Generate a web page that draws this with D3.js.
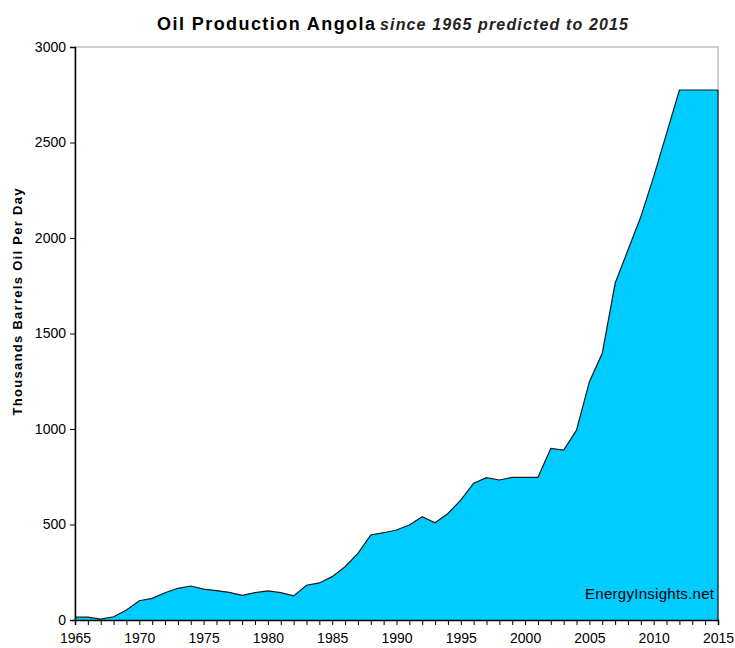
<!DOCTYPE html>
<html><head><meta charset="utf-8">
<script src="https://cdn.jsdelivr.net/npm/d3@7/dist/d3.min.js"></script>
<style>body{margin:0;background:#fff;} svg{display:block;font-family:"Liberation Sans",Arial,sans-serif;}</style>
</head><body>
<svg id="c" width="735" height="648"></svg>
<script>
const years = d3.range(1965, 2016);
const production = [15,15,5,17,52,101,113,143,166,178,162,154,145,129,143,152,143,126,182,194,227,279,349,445,457,471,497,541,509,558,628,716,745,733,747,747,747,899,890,995,1248,1396,1763,1937,2112,2321,2548,2775,2775,2775,2775];
const yTicks = [0,500,1000,1500,2000,2500,3000];
const xTicks = [1965,1970,1975,1980,1985,1990,1995,2000,2005,2010,2015];
const data = years.map((y,i)=>({year:y, value:production[i]}));

const svg = d3.select("#c");
const L=75, R=718, T=47, B=620;
const x = d3.scaleLinear().domain([1965,2015]).range([L,R]);
const y = d3.scaleLinear().domain([0,3000]).range([B,T]);

svg.append("rect").attr("x",L).attr("y",T).attr("width",R-L).attr("height",B-T)
  .attr("fill","none").attr("stroke","#a0a0a0").attr("stroke-width",1);

const area = d3.area().x(d=>x(d.year)).y0(B).y1(d=>y(d.value));
svg.append("path").datum(data).attr("d",area).attr("fill","#00ccff");
const line = d3.line().x(d=>x(d.year)).y(d=>y(d.value));
svg.append("path").datum(data).attr("d",line).attr("fill","none").attr("stroke","#1a1a1a").attr("stroke-width",1.2);
svg.append("line").attr("x1",R).attr("x2",R).attr("y1",y(production[production.length-1])).attr("y2",B).attr("stroke","#000");

const yAxis = d3.axisLeft(y).tickValues(yTicks).tickSize(5).tickFormat(d3.format("d"));
const gy = svg.append("g").attr("transform",`translate(${L},0)`).call(yAxis);
gy.select(".domain").attr("stroke","#000").attr("stroke-width",1.5);
gy.selectAll("text").attr("font-size",14).attr("fill","#000").attr("dx",-1);

const xAxis = d3.axisBottom(x).tickValues(years).tickSize(5).tickFormat(d=> xTicks.includes(d)? String(d):"");
const gx = svg.append("g").attr("transform",`translate(0,${B})`).call(xAxis);
gx.select(".domain").attr("stroke","#000").attr("stroke-width",1.5);
gx.selectAll("text").attr("font-size",14).attr("fill","#000").attr("y",23).attr("dy",0);

const title = svg.append("text").attr("y",30).attr("fill","#000");
title.append("tspan").attr("x",157).attr("font-weight","bold").attr("font-size",18).attr("textLength",218).attr("lengthAdjust","spacing").text("Oil Production Angola");
title.append("tspan").attr("x",380).attr("font-style","italic").attr("font-weight","bold").attr("font-size",16).attr("fill","#222")
  .attr("textLength",248).attr("lengthAdjust","spacing").text("since 1965 predicted to 2015");

svg.append("text").attr("transform","translate(22,302) rotate(-90)").attr("text-anchor","middle")
  .attr("font-weight","bold").attr("font-size",13).attr("textLength",227).attr("lengthAdjust","spacing").text("Thousands Barrels Oil Per Day");

svg.append("text").attr("x",585).attr("y",599).attr("font-size",15).attr("textLength",129).attr("lengthAdjust","spacing").text("EnergyInsights.net");
</script>
</body></html>
